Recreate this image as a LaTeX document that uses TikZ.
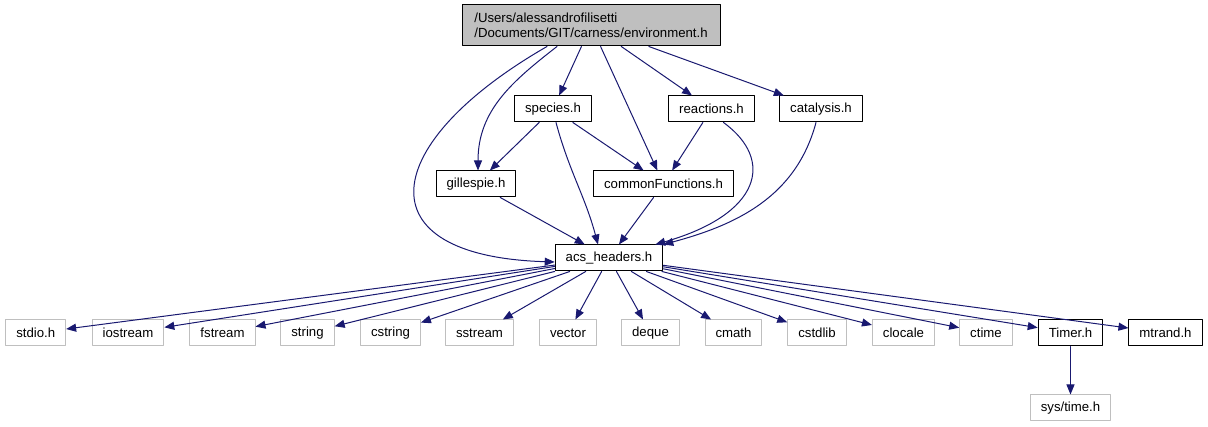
\documentclass[tikz,border=0pt]{standalone}
\usepackage{fontspec}
\setmainfont{Liberation Sans}
\usetikzlibrary{arrows.meta}
\definecolor{edgeblue}{RGB}{25,25,112}
\definecolor{boxgray}{RGB}{191,191,191}

\begin{document}
\begin{tikzpicture}[x=1pt, y=-1pt, line cap=round, line join=round,
		hdr/.style={draw=black, line width=1pt, minimum height=26pt, inner xsep=10.5pt, inner ysep=0pt, font=\fontsize{13.2}{15.5}\selectfont},
		sysh/.style={hdr, draw=boxgray},
		dep/.style={edgeblue, line width=1pt, -{Triangle[length=10pt,width=8pt]}}]
		\useasboundingbox (0,0) rectangle (1208,427);

		% top file
		\node [hdr, fill=boxgray, align=left, minimum width=258pt, minimum height=41pt] (env) at (591,25.5) {/Users/alessandrofilisetti\\/Documents/GIT/carness/environment.h};

		% project headers
		\node [hdr] (species) at (553,109) {species.h};
		\node [hdr] (reactions) at (711.5,109) {reactions.h};
		\node [hdr] (catalysis) at (821,109) {catalysis.h};
		\node [hdr] (gillespie) at (476,184) {gillespie.h};
		\node [hdr] (common) at (663.5,184) {commonFunctions.h};
		\node [hdr] (acs) at (609,258) {acs\_headers.h};

		% system headers
		\node [sysh] (stdio) at (35.7,333) {stdio.h};
		\node [sysh] (iostream) at (128,333) {iostream};
		\node [sysh] (fstream) at (222.5,333) {fstream};
		\node [sysh] (string) at (307.5,333) {string};
		\node [sysh] (cstring) at (390.5,333) {cstring};
		\node [sysh] (sstream) at (479.5,333) {sstream};
		\node [sysh] (vector) at (568,333) {vector};
		\node [sysh] (deque) at (650.5,333) {deque};
		\node [sysh] (cmath) at (733.5,333) {cmath};
		\node [sysh] (cstdlib) at (817,333) {cstdlib};
		\node [sysh] (clocale) at (903.5,333) {clocale};
		\node [sysh] (ctime) at (986,333) {ctime};
		\node [hdr] (timer) at (1070.5,333) {Timer.h};
		\node [hdr] (mtrand) at (1165.5,333) {mtrand.h};
		\node [sysh] (systime) at (1070.5,408) {sys/time.h};

		% includes of the top file
		\draw [dep] ([xshift=-44pt]env.south) .. controls +(-167,96) and +(-195,-6) .. ([yshift=-4pt]acs.west);
		\draw [dep] ([xshift=-34pt]env.south) .. controls +(-45,35) and +(0,-60) .. ([xshift=2pt]gillespie.north);
		\draw [dep] (env) -- (species);
		\draw [dep] (env) -- (common);
		\draw [dep] (env) -- (reactions);
		\draw [dep] (env) -- (catalysis);

		% includes between project headers
		\draw [dep] ([xshift=3pt]species.south) to [out=-75, in=105] ([xshift=-11pt]acs.north);
		\draw [dep] (reactions) -- (common);
		\draw [dep] ([xshift=12pt]reactions.south) .. controls +(52,38) and +(105,-30) .. ([xshift=-8pt]acs.north east);
		\draw [dep] ([xshift=-5pt]catalysis.south) to [out=-105, in=15] (acs.north east);
		\draw [dep] (species) -- (gillespie);
		\draw [dep] (species) -- (common);
		\draw [dep] (gillespie) -- (acs);
		\draw [dep] (common) -- (acs);

		% acs_headers.h includes
		\foreach \h in {stdio,iostream,fstream,string,cstring,sstream,vector,deque,cmath,cstdlib,clocale,ctime,timer,mtrand}
			\draw [dep] (acs) -- (\h);
		\draw [dep] (timer) -- (systime);
	\end{tikzpicture}
\end{document}
